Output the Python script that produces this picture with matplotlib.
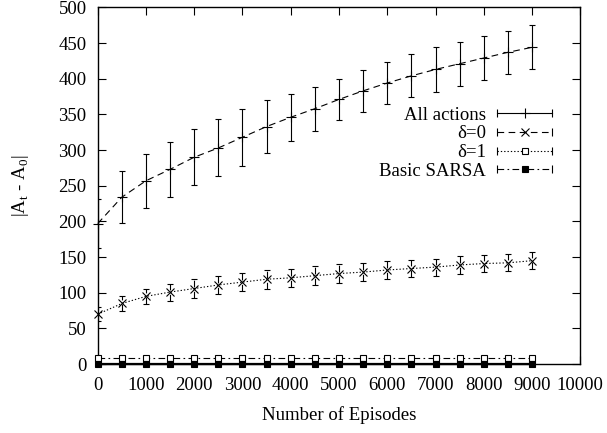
import matplotlib
matplotlib.use("Agg")
import matplotlib.pyplot as plt
from matplotlib.legend_handler import HandlerLine2D
from matplotlib.lines import Line2D

# data (mean and error at every 500 episodes)
episodes = [0, 500, 1000, 1500, 2000, 2500, 3000, 3500, 4000, 4500,
            5000, 5500, 6000, 6500, 7000, 7500, 8000, 8500, 9000]

all_mean = [197, 234, 257, 273, 290, 303, 318, 333, 346, 358,
            371, 383, 394, 404, 413, 421, 429, 437, 444]
all_err = [34, 36, 38, 39, 39, 40, 40, 37, 33, 31,
           29, 29, 29, 30, 31, 31, 31, 30, 31]

d0_mean = [70, 85, 95, 101, 106, 111, 115, 119, 121, 124,
           127, 129, 132, 134, 136, 139, 141, 142, 145]
d0_err = [10, 11, 11, 12, 13, 13, 13, 13, 13, 13,
          13, 13, 12, 12, 12, 12, 12, 12, 12]

d1_mean = [9, 9, 9, 9, 9, 9, 9, 9, 9, 9,
           9, 9, 9, 9, 9, 9, 9, 9, 9]
d1_err = [1.5, 1.5, 1.5, 1.5, 1.5, 1.5, 1.5, 1.5, 1.5, 1.5,
          1.5, 1.5, 1.5, 1.5, 1.5, 1.5, 1.5, 1.5, 1.5]

sarsa_mean = [0.5, 0.5, 0.5, 0.5, 0.5, 0.5, 0.5, 0.5, 0.5, 0.5,
              0.5, 0.5, 0.5, 0.5, 0.5, 0.5, 0.5, 0.5, 0.5]
sarsa_err = [0.5, 0.5, 0.5, 0.5, 0.5, 0.5, 0.5, 0.5, 0.5, 0.5,
             0.5, 0.5, 0.5, 0.5, 0.5, 0.5, 0.5, 0.5, 0.5]

labels = ["All actions", "δ=0", "δ=1", "Basic SARSA"]

plt.rcParams["font.family"] = ["Liberation Serif", "DejaVu Serif"]
plt.rcParams["mathtext.fontset"] = "custom"
plt.rcParams["mathtext.rm"] = "Liberation Serif"
plt.rcParams["font.size"] = 13.5

DASHED = (0, (6, 4))
DOTTED = (0, (1.2, 1.8))
DASHDOT = (0, (6, 3, 1.5, 3))


class CappedHandler(HandlerLine2D):
    # gnuplot-style key sample: |---marker---|
    def create_artists(self, legend, orig_handle, xdescent, ydescent,
                       width, height, fontsize, trans):
        artists = super().create_artists(legend, orig_handle, xdescent, ydescent,
                                         width, height, fontsize, trans)
        y = height / 2.0 - ydescent
        caps = Line2D([-xdescent, -xdescent + width], [y, y], ls="none",
                      marker="|", markersize=6, markeredgewidth=0.8, color="k")
        caps.set_transform(trans)
        return artists + [caps]


fig = plt.figure(figsize=(6.07, 4.33), dpi=100)
ax = fig.add_axes([0.161, 0.159, 0.795, 0.824])

series = [
    (all_mean, all_err, "-", DASHED, dict(marker="+", ms=7, mfc="k")),
    (d0_mean, d0_err, DASHED, DOTTED, dict(marker="x", ms=6, mfc="k")),
    (d1_mean, d1_err, DOTTED, DASHDOT, dict(marker="s", ms=5, mfc="white")),
    (sarsa_mean, sarsa_err, DASHDOT, "-", dict(marker="s", ms=5, mfc="k")),
]

handles = []
for (mean, err, bar_ls, line_ls, mk), label in zip(series, labels):
    _, _, bars = ax.errorbar(episodes, mean, yerr=err, fmt="none", ecolor="k",
                             elinewidth=0.8, capsize=2.5, capthick=0.8)
    for b in bars:
        b.set_linestyle(bar_ls)
    lw = 1.6 if line_ls == "-" else 0.8
    ax.plot(episodes, mean, color="k", lw=lw, ls=line_ls, mec="k", mew=0.8,
            clip_on=False, zorder=3, **mk)
    handles.append(Line2D([], [], color="k", lw=0.8, ls=bar_ls, mec="k",
                          mew=0.8, label=label, **mk))

ax.set_xlim(0, 10000)
ax.set_ylim(0, 500)
ax.set_xticks(range(0, 10001, 1000))
ax.set_yticks(range(0, 501, 50))
ax.tick_params(direction="in", top=True, right=True, length=6, width=0.8,
               labelsize=13.5)
ax.tick_params(axis="x", pad=9)
ax.tick_params(axis="y", pad=8)
for sp in ax.spines.values():
    sp.set_linewidth(1.0)

ax.set_xlabel("Number of Episodes", labelpad=9)
ax.set_ylabel(r"|A$_{\mathrm{t}}$ - A$_{\mathrm{0}}$|", labelpad=20)

ax.legend(handles=handles, loc="upper right", bbox_to_anchor=(0.941, 0.722),
          frameon=False, markerfirst=False, numpoints=1, handlelength=2.9,
          handletextpad=0.6, labelspacing=0.085, borderpad=0, borderaxespad=0,
          handler_map={Line2D: CappedHandler()})

fig.savefig("out.png", dpi=100)
